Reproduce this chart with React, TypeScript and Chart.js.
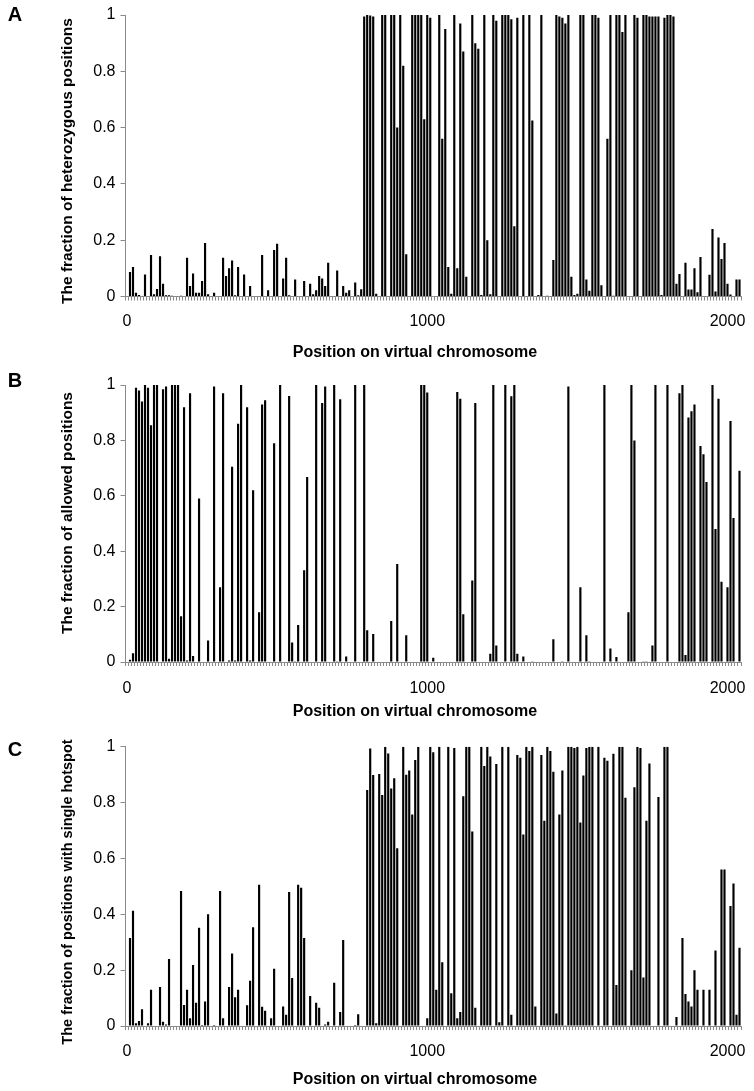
import React, { useEffect, useRef } from "react";
import { Chart, registerables } from "chart.js";

Chart.register(...registerables);

// Category axis: 10-unit bins along the virtual chromosome (0 .. 2040)
const positions: number[] = Array.from({ length: 205 }, (_, i) => i * 10);
const xTickLabels = ["0", "1000", "2000"];

// Panel A: fraction of heterozygous positions
const heterozygous = [
  0, 0.087, 0.105, 0.013, 0.005, 0, 0.078, 0, 0.147, 0.008,
  0.027, 0.143, 0.045, 0.004, 0.004, 0.003, 0, 0, 0.003, 0,
  0.138, 0.037, 0.082, 0.013, 0.013, 0.055, 0.19, 0.008, 0, 0.013,
  0, 0, 0.138, 0.073, 0.1, 0.128, 0.004, 0.105, 0, 0.078,
  0, 0.037, 0, 0, 0, 0.147, 0, 0.022, 0, 0.165,
  0.187, 0, 0.064, 0.138, 0.004, 0, 0.06, 0, 0, 0.055,
  0, 0.045, 0.008, 0.022, 0.073, 0.064, 0.037, 0.12, 0, 0,
  0.092, 0, 0.037, 0.013, 0.022, 0, 0.05, 0.004, 0.026, 0.995,
  1, 0.998, 0.995, 0.01, 0, 1, 1, 0, 1, 1,
  0.6, 1, 0.82, 0.15, 0, 1, 1, 1, 1, 0.63,
  1, 0.99, 0, 0, 1, 0.56, 0.95, 0.105, 0.01, 1,
  0.1, 0.97, 0.87, 0.07, 0, 1, 0.9, 0.88, 0.005, 1,
  0.2, 0.008, 1, 0.98, 0, 1, 1, 1, 0.985, 0.25,
  0.99, 0, 1, 0, 1, 0.625, 0, 0.005, 1, 0,
  0.003, 0, 0.13, 1, 0.995, 0.99, 0.97, 1, 0.07, 0.005,
  0.01, 1, 1, 0.06, 0.02, 1, 1, 0.99, 0.04, 0,
  0.56, 1, 0.003, 1, 1, 0.94, 1, 0, 0, 1,
  0.99, 0, 1, 1, 0.995, 0.995, 0.995, 0.995, 0.005, 0.99,
  1, 1, 0.995, 0.045, 0.08, 0, 0.12, 0.025, 0.025, 0.1,
  0.015, 0.14, 0, 0, 0.077, 0.24, 0.018, 0.21, 0.133, 0.19,
  0.045, 0.007, 0, 0.06, 0.06,
];

// Panel B: fraction of allowed positions
const allowed = [
  0, 0.008, 0.032, 0.99, 0.98, 0.94, 1, 0.99, 0.855, 1,
  1, 0, 0.985, 0.995, 0.012, 1, 1, 1, 0.165, 0.92,
  0.005, 0.97, 0.022, 0, 0.59, 0, 0, 0.078, 0, 0.995,
  0, 0.27, 0.97, 0, 0.005, 0.705, 0.005, 0.86, 1, 0,
  0.92, 0.005, 0.62, 0, 0.18, 0.93, 0.945, 0, 0, 0.79,
  0, 1, 0, 0, 0.96, 0.07, 0.003, 0.134, 0, 0.331,
  0.668, 0, 0, 1, 0, 0.935, 0.995, 0, 0, 1,
  0.003, 0.949, 0, 0.02, 0, 0, 1, 0, 0, 1,
  0.115, 0, 0.101, 0, 0, 0, 0, 0, 0.148, 0,
  0.354, 0, 0, 0.097, 0, 0, 0, 0, 1, 1,
  0.973, 0, 0.015, 0, 0, 0, 0, 0, 0, 0,
  0.975, 0.95, 0.172, 0, 0, 0.294, 0.935, 0, 0, 0,
  0, 0.03, 1, 0.06, 0, 0, 1, 0, 0.959, 1,
  0.03, 0, 0.02, 0, 0, 0.003, 0, 0, 0, 0,
  0, 0, 0.082, 0, 0, 0.003, 0, 0.995, 0, 0,
  0, 0.27, 0, 0.097, 0.003, 0, 0, 0, 0, 1,
  0, 0.049, 0, 0.018, 0, 0, 0, 0.18, 1, 0.8,
  0, 0, 0.003, 0.003, 0, 0.06, 1, 0, 0, 0,
  1, 0, 0, 0, 0.97, 1, 0.025, 0.883, 0.905, 0.93,
  0, 0.78, 0.75, 0.65, 0, 1, 0.48, 0.95, 0.29, 0,
  0.27, 0.87, 0.52, 0, 0.69,
];

// Panel C: fraction of positions with single hotspot
const singleHotspot = [
  0, 0.315, 0.413, 0.01, 0.018, 0.06, 0, 0.01, 0.13, 0,
  0, 0.14, 0.015, 0.005, 0.24, 0, 0, 0, 0.483, 0.075,
  0.13, 0.028, 0.218, 0.083, 0.352, 0.004, 0.088, 0.4, 0, 0.004,
  0, 0.483, 0.028, 0, 0.14, 0.26, 0.103, 0.13, 0, 0,
  0.074, 0.162, 0.354, 0, 0.506, 0.069, 0.055, 0, 0.028, 0.205,
  0, 0, 0.07, 0.04, 0.48, 0.172, 0, 0.506, 0.495, 0.315,
  0, 0.107, 0, 0.083, 0.065, 0, 0.005, 0.015, 0, 0.155,
  0, 0.05, 0.308, 0, 0, 0, 0.004, 0.042, 0, 0,
  0.845, 0.994, 0.899, 0.01, 0.902, 0.827, 1, 0.976, 0.85, 0.887,
  0.636, 0, 1, 0.9, 0.915, 0.757, 0.952, 1, 0, 0,
  0.028, 1, 0.98, 0.13, 1, 0.228, 0, 1, 0.117, 0.995,
  0.028, 0.05, 0.823, 1, 1, 0.696, 0.065, 0, 1, 0.931,
  1, 0.965, 0, 0.938, 0.013, 1, 0, 1, 0.04, 0,
  0.97, 0.96, 0.686, 1, 0.985, 1, 0.07, 0, 0.97, 0.735,
  1, 0.985, 0.91, 0.045, 0.757, 0.915, 0.003, 1, 1, 0.995,
  1, 0.729, 0.897, 0.995, 1, 1, 0, 1, 0, 0.96,
  0.95, 0, 0.975, 0.147, 1, 1, 0.817, 0, 0.2, 0.855,
  1, 0.995, 0.174, 0.735, 0.94, 0, 0, 0.82, 0, 1,
  1, 0, 0, 0.032, 0, 0.315, 0.115, 0.088, 0.07, 0.2,
  0.13, 0, 0.13, 0, 0.13, 0, 0.27, 0, 0.56, 0.56,
  0, 0.43, 0.51, 0.04, 0.28,
];

const FONT = '"Liberation Sans", Arial, Helvetica, sans-serif';
const GRAY = "#8a8a8a";
const W = 754;
const PLOT_LEFT = 125.5;
const PLOT_RIGHT = 741;

type PanelCfg = {
  letter: string;
  yTitle: string;
  yTitleSize: number;
  xTitle: string;
  values: number[];
  top: number;
  height: number;
  plotTop: number;
  plotBottom: number;
  xPad: number;
  letterY: number;
  yTitleY: number;
  xTitleY: number;
};

// all vertical numbers below are relative to each canvas' top
const panels: PanelCfg[] = [
  {
    letter: "A",
    yTitle: "The fraction of heterozygous positions",
    yTitleSize: 15.5,
    xTitle: "Position on virtual chromosome",
    values: heterozygous,
    top: 0,
    height: 362,
    plotTop: 15,
    plotBottom: 296.5,
    xPad: 11.5,
    letterY: 15,
    yTitleY: 161,
    xTitleY: 353,
  },
  {
    letter: "B",
    yTitle: "The fraction of allowed positions",
    yTitleSize: 15.5,
    xTitle: "Position on virtual chromosome",
    values: allowed,
    top: 362,
    height: 365,
    plotTop: 23,
    plotBottom: 300,
    xPad: 12.5,
    letterY: 19.5,
    yTitleY: 151,
    xTitleY: 350,
  },
  {
    letter: "C",
    yTitle: "The fraction of positions with single hotspot",
    yTitleSize: 14.5,
    xTitle: "Position on virtual chromosome",
    values: singleHotspot,
    top: 707,
    height: 384,
    plotTop: 39.7,
    plotBottom: 319,
    xPad: 11.5,
    letterY: 43,
    yTitleY: 185,
    xTitleY: 373,
  },
];

function Panel({ cfg }: { cfg: PanelCfg }) {
  const ref = useRef<HTMLCanvasElement | null>(null);

  useEffect(() => {
    if (!ref.current) return;
    const textPlugin = {
      id: "panelText",
      afterDraw(chart: any) {
        const ctx = chart.ctx as CanvasRenderingContext2D;
        ctx.save();
        ctx.fillStyle = "#000";
        ctx.textAlign = "center";
        ctx.textBaseline = "middle";
        ctx.font = `bold 20px ${FONT}`;
        ctx.fillText(cfg.letter, 15, cfg.letterY);
        ctx.font = `bold ${cfg.yTitleSize}px ${FONT}`;
        ctx.save();
        ctx.translate(68, cfg.yTitleY);
        ctx.rotate(-Math.PI / 2);
        ctx.fillText(cfg.yTitle, 0, 0);
        ctx.restore();
        ctx.font = `bold 16px ${FONT}`;
        ctx.fillText(cfg.xTitle, 415, cfg.xTitleY);
        ctx.restore();
      },
    };

    const chart = new Chart(ref.current, {
      type: "bar",
      data: {
        labels: positions,
        datasets: [
          {
            data: cfg.values,
            backgroundColor: "#000000",
            borderWidth: 0,
            barPercentage: 0.72,
            categoryPercentage: 1,
          },
        ],
      },
      options: {
        responsive: false,
        animation: false,
        devicePixelRatio: 1,
        layout: {
          padding: { left: 0, right: W - PLOT_RIGHT, top: cfg.plotTop, bottom: 0 },
        },
        plugins: {
          legend: { display: false },
          tooltip: { enabled: false },
        },
        scales: {
          x: {
            type: "category",
            offset: true,
            grid: {
              display: true,
              offset: true,
              drawOnChartArea: false,
              drawTicks: true,
              tickLength: 4,
              color: GRAY,
            },
            border: { display: true, color: GRAY, width: 1 },
            ticks: {
              autoSkip: false,
              maxRotation: 0,
              minRotation: 0,
              padding: cfg.xPad,
              color: "#000",
              font: { family: FONT, size: 16 },
              callback: (_v: any, index: number) =>
                index % 100 === 0 ? xTickLabels[index / 100] : "",
            },
            afterFit: (s: any) => {
              s.height = cfg.height - cfg.plotBottom;
            },
          },
          y: {
            min: 0,
            max: 1,
            ticks: {
              stepSize: 0.2,
              padding: 5,
              color: "#000",
              font: { family: FONT, size: 16 },
              callback: (v: any) => {
                const n = Math.round(Number(v) * 10) / 10;
                return n === 0 ? "0" : n === 1 ? "1" : n.toFixed(1);
              },
            },
            grid: {
              drawOnChartArea: false,
              drawTicks: true,
              tickLength: 5,
              color: GRAY,
            },
            border: { display: true, color: GRAY, width: 1 },
            afterFit: (s: any) => {
              s.width = PLOT_LEFT;
            },
          },
        },
      },
      plugins: [textPlugin],
    } as any);

    return () => chart.destroy();
  }, [cfg]);

  return (
    <canvas
      ref={ref}
      width={W}
      height={cfg.height}
      style={{
        position: "absolute",
        left: 0,
        top: cfg.top,
        width: W,
        height: cfg.height,
        display: "block",
      }}
    />
  );
}

export default function App() {
  return (
    <div
      style={{
        position: "absolute",
        left: 0,
        top: 0,
        width: W,
        height: 1091,
        background: "#fff",
      }}
    >
      {panels.map((p) => (
        <Panel key={p.letter} cfg={p} />
      ))}
    </div>
  );
}
